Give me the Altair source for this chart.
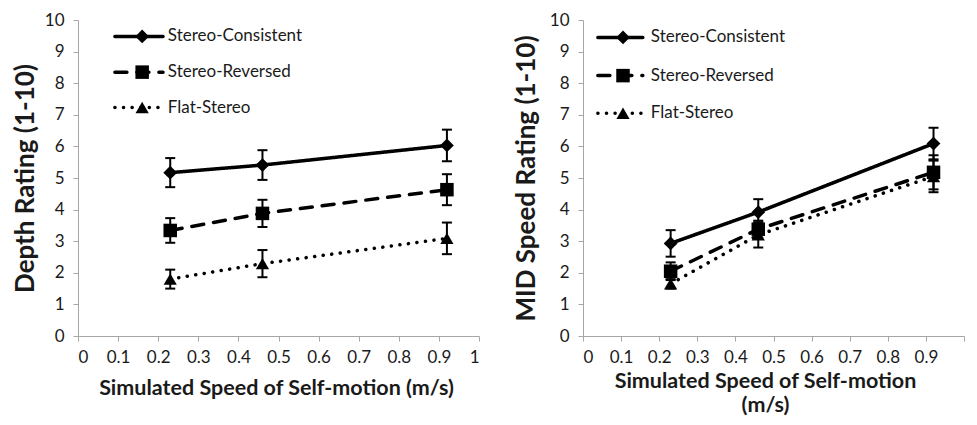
import altair as alt
import pandas as pd

# ---- data ----
speeds = [0.23, 0.46, 0.92]
series = ["Stereo-Consistent", "Stereo-Reversed", "Flat-Stereo"]

depth_consistent = [5.17, 5.41, 6.03]
depth_consistent_err = [0.46, 0.47, 0.50]
depth_reversed = [3.34, 3.88, 4.63]
depth_reversed_err = [0.39, 0.43, 0.49]
depth_flat = [1.80, 2.29, 3.09]
depth_flat_err = [0.30, 0.43, 0.50]

mid_consistent = [2.93, 3.92, 6.09]
mid_consistent_err = [0.42, 0.41, 0.50]
mid_reversed = [2.05, 3.38, 5.18]
mid_reversed_err = [0.28, 0.27, 0.54]
mid_flat = [1.65, 3.20, 5.05]
mid_flat_err = [0.15, 0.40, 0.50]

x_ticks = [0, 0.1, 0.2, 0.3, 0.4, 0.5, 0.6, 0.7, 0.8, 0.9, 1]
y_ticks = [0, 1, 2, 3, 4, 5, 6, 7, 8, 9, 10]

FONT = "Lato"
INK = "#1a1a1a"

shape_scale = alt.Scale(domain=series, range=["diamond", "square", "triangle-up"])
size_scale = alt.Scale(domain=series, range=[190, 175, 165])
dash_scale = alt.Scale(domain=series, range=[[1, 0], [12, 10], [0.1, 8.5]])


def make_df(means, errs):
    rows = []
    for s, m_list, e_list in zip(series, means, errs):
        for sp, m, e in zip(speeds, m_list, e_list):
            rows.append({"series": s, "speed": sp, "value": m,
                         "lo": m - e, "hi": m + e})
    return pd.DataFrame(rows)


def panel(df, ytitle, xtitle, width, ypad, xpad, title_x, label_expr, leg):
    xs = alt.Scale(domain=[0, 1], nice=False, zero=True, padding=0)
    ys = alt.Scale(domain=[0, 10], nice=False, padding=0)
    x_axis = alt.Axis(values=x_ticks, format="~g", title=xtitle, tickCount=11,
                      titleX=title_x, grid=False, labelOverlap=False,
                      titlePadding=xpad, labelExpr=label_expr)
    y_axis = alt.Axis(values=y_ticks, title=ytitle, grid=False,
                      tickCount=11, labelOverlap=False, titlePadding=ypad)
    X = lambda f: alt.X(f, scale=xs, axis=x_axis)
    Y = lambda f: alt.Y(f, scale=ys, axis=y_axis)

    base = alt.Chart(df)
    lines = base.mark_line(color="black", strokeWidth=3.5, strokeCap="round").encode(
        x=X("speed:Q"), y=Y("value:Q"),
        strokeDash=alt.StrokeDash("series:N", scale=dash_scale, legend=None),
        order="speed:Q",
    )
    bars = base.mark_rule(color="black", strokeWidth=2).encode(
        x=X("speed:Q"), y=Y("lo:Q"), y2="hi:Q")
    cap_lo = base.mark_tick(color="black", orient="horizontal", size=10,
                            thickness=2, opacity=1).encode(x=X("speed:Q"), y=Y("lo:Q"))
    cap_hi = base.mark_tick(color="black", orient="horizontal", size=10,
                            thickness=2, opacity=1).encode(x=X("speed:Q"), y=Y("hi:Q"))
    pts = base.mark_point(filled=True, color="black", opacity=1).encode(
        x=X("speed:Q"), y=Y("value:Q"),
        shape=alt.Shape("series:N", scale=shape_scale, legend=None),
        size=alt.Size("series:N", scale=size_scale, legend=None),
    )

    # in-plot legend (positions in data units)
    lx0, lx1, lm, lt, ly = leg
    ldf = pd.DataFrame({"series": series, "y": ly,
                        "x0": [lx0] * 3, "x1": [lx1] * 3,
                        "xm": [lm] * 3, "xt": [lt] * 3})
    lbase = alt.Chart(ldf)
    l_line = lbase.mark_rule(color="black", strokeWidth=3.5, strokeCap="round").encode(
        x=X("x0:Q"), x2="x1:Q", y=Y("y:Q"),
        strokeDash=alt.StrokeDash("series:N", scale=dash_scale, legend=None))
    l_pt = lbase.mark_point(filled=True, color="black", opacity=1).encode(
        x=X("xm:Q"), y=Y("y:Q"),
        shape=alt.Shape("series:N", scale=shape_scale, legend=None),
        size=alt.Size("series:N", scale=size_scale, legend=None))
    l_txt = lbase.mark_text(align="left", baseline="middle", font=FONT,
                            fontSize=17, color=INK).encode(
        x=X("xt:Q"), y=Y("y:Q"), text="series:N")

    return alt.layer(lines, bars, cap_lo, cap_hi, pts, l_line, l_pt, l_txt).properties(
        width=width, height=316)


depth_df = make_df([depth_consistent, depth_reversed, depth_flat],
                   [depth_consistent_err, depth_reversed_err, depth_flat_err])
mid_df = make_df([mid_consistent, mid_reversed, mid_flat],
                 [mid_consistent_err, mid_reversed_err, mid_flat_err])

left = panel(depth_df, "Depth Rating (1-10)",
             "Simulated Speed of Self-motion (m/s)", 401, 6, 12, 198,
             "datum.label",
             (0.092, 0.212, 0.16, 0.224, [9.48, 8.35, 7.23]))
right = panel(mid_df, "MID Speed Rating (1-10)",
              ["Simulated Speed of Self-motion", "(m/s)"], 381, 10, 5, 182,
              "datum.value >= 1 ? '' : datum.label",
              (0.039, 0.157, 0.105, 0.178, [9.45, 8.24, 7.05]))

chart = alt.hconcat(left, right, spacing=33).properties(
    padding={"left": 4, "top": 3, "right": 0, "bottom": 0}
).configure_view(stroke=None).configure_axis(
    domainColor="#a6a6a6", tickColor="#a6a6a6", tickSize=5, labelOverlap=False,
    labelFont=FONT, labelFontSize=17, labelColor=INK,
    titleFont=FONT, titleFontWeight="bold", titleColor=INK,
).configure_axisY(titleFontSize=26, labelPadding=9).configure_axisX(
    titleFontSize=21.5, titleLineHeight=24, labelPadding=8)

chart.save("out.html", embed_options={"renderer": "svg", "actions": False})
